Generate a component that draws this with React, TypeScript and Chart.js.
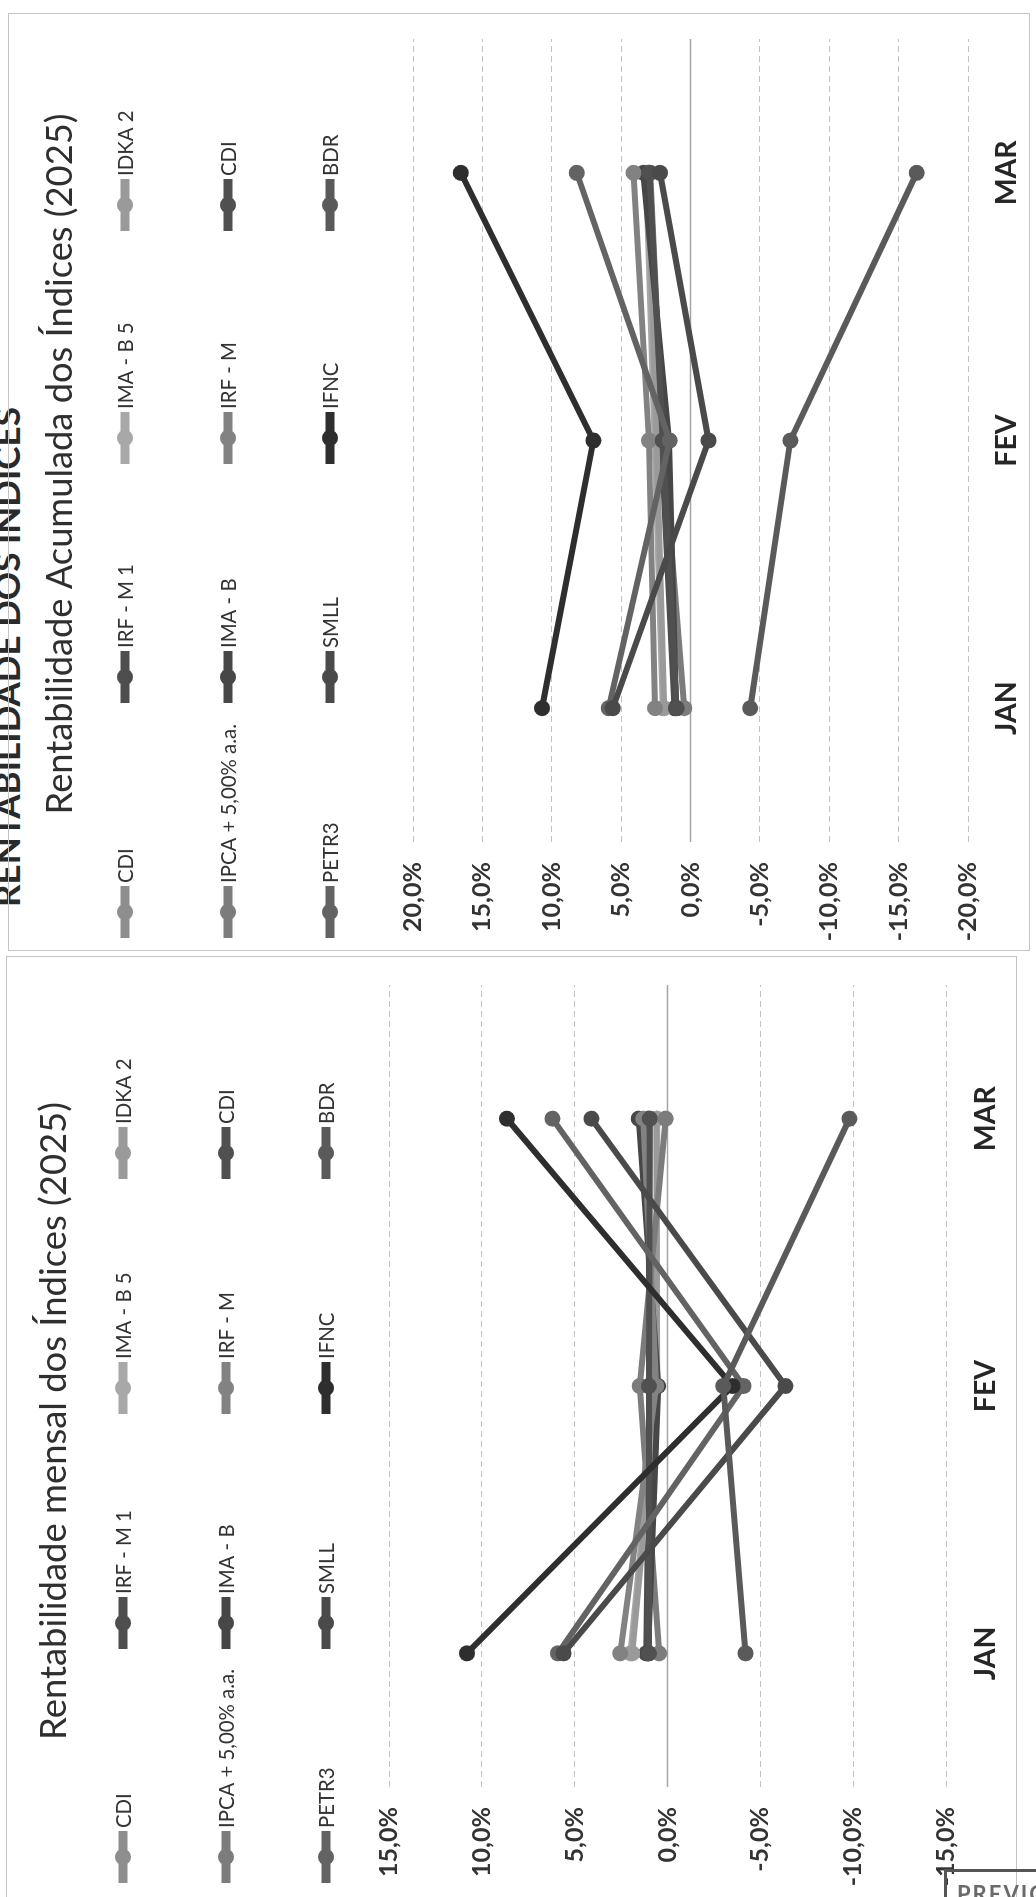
import React, { useEffect, useRef } from "react";
import { Chart, registerables } from "chart.js";

Chart.register(...registerables);

// ---------- data ----------
const months = ["JAN", "FEV", "MAR"];
const seriesNames = [
  "CDI", "IRF - M 1", "IMA - B 5", "IDKA 2",
  "IPCA + 5,00% a.a.", "IMA - B", "IRF - M", "CDI",
  "PETR3", "SMLL", "IFNC", "BDR",
];
const seriesColors = [
  "#8e8e8e", "#4e4e4e", "#a8a8a8", "#9a9a9a",
  "#7c7c7c", "#474747", "#828282", "#505050",
  "#636363", "#4a4a4a", "#2e2e2e", "#5a5a5a",
];

// Rentabilidade mensal (%)
const mensalCdi = [1.0, 1.0, 0.95];
const mensalIrfM1 = [1.15, 0.95, 1.05];
const mensalImaB5 = [2.0, 0.6, 0.55];
const mensalIdka2 = [1.9, 0.55, 0.6];
const mensalIpca5 = [0.45, 1.5, 0.1];
const mensalImaB = [1.05, 0.5, 1.55];
const mensalIrfM = [2.55, 0.6, 1.3];
const mensalCdi2 = [1.0, 1.0, 0.95];
const mensalPetr3 = [5.9, -4.1, 6.2];
const mensalSmll = [5.6, -6.35, 4.1];
const mensalIfnc = [10.8, -3.5, 8.65];
const mensalBdr = [-4.2, -3.0, -9.8];

// Rentabilidade acumulada (%)
const acumCdi = [1.0, 2.0, 2.95];
const acumIrfM1 = [1.15, 2.1, 3.15];
const acumImaB5 = [2.0, 2.6, 3.2];
const acumIdka2 = [1.9, 2.45, 3.05];
const acumIpca5 = [0.45, 2.0, 2.9];
const acumImaB = [1.05, 1.55, 3.4];
const acumIrfM = [2.55, 3.0, 4.1];
const acumCdi2 = [1.0, 2.0, 2.95];
const acumPetr3 = [5.9, 1.5, 8.2];
const acumSmll = [5.6, -1.3, 2.2];
const acumIfnc = [10.7, 7.0, 16.55];
const acumBdr = [-4.3, -7.2, -16.3];

const mensalSeries = [
  mensalCdi, mensalIrfM1, mensalImaB5, mensalIdka2, mensalIpca5, mensalImaB,
  mensalIrfM, mensalCdi2, mensalPetr3, mensalSmll, mensalIfnc, mensalBdr,
];
const acumSeries = [
  acumCdi, acumIrfM1, acumImaB5, acumIdka2, acumIpca5, acumImaB,
  acumIrfM, acumCdi2, acumPetr3, acumSmll, acumIfnc, acumBdr,
];

const mensalAxis = [-15, 15, 5];
const acumAxis = [-20, 20, 5];

const mensalTitle = "Rentabilidade mensal dos Índices (2025)";
const acumTitle = "Rentabilidade Acumulada dos Índices (2025)";
const pageHeading = "RENTABILIDADE DOS ÍNDICES";
const stampText = "PREVIC";

// ---------- styling ----------
const FONT = "Lato, 'Open Sans', 'DejaVu Sans', sans-serif";

function fitSize(text: string, weight: string, target: number) {
  const c = document.createElement("canvas").getContext("2d")!;
  c.font = `${weight} 100px ${FONT}`;
  return (100 * target) / c.measureText(text).width;
}

const fmtPct = (v: number) => {
  const s = (Math.round(v * 10) / 10).toFixed(1).replace(".", ",");
  return (s === "-0,0" ? "0,0" : s) + "%";
};

type Geom = {
  x: number; w: number; h: number;
  area: { left: number; right: number; top: number; bottom: number };
  labelCenter: number;
  titleX: number; titleY: number; titleWidth: number;
  legendCols: number[]; legendRows: number[];
};

const GEOM: Record<string, Geom> = {
  mensal: {
    x: 0, w: 941, h: 1036,
    area: { left: 110, right: 912, top: 389, bottom: 946 },
    labelCenter: 986,
    titleX: 476, titleY: 54, titleWidth: 638,
    legendCols: [40, 274, 509, 744], legendRows: [123, 226, 326],
  },
  acum: {
    x: 946, w: 938, h: 1036,
    area: { left: 109, right: 912, top: 413, bottom: 968 },
    labelCenter: 1007,
    titleX: 487, titleY: 60, titleWidth: 701,
    legendCols: [39, 274, 513, 746], legendRows: [125, 228, 330],
  },
};

const decorPlugin = {
  id: "decor",
  beforeDatasetsDraw(chart: any) {
    const ctx = chart.ctx;
    const { left, right } = chart.chartArea;
    const y = chart.scales.y.getPixelForValue(0);
    ctx.save();
    ctx.strokeStyle = "#a4a4a4";
    ctx.lineWidth = 1.5;
    ctx.beginPath();
    ctx.moveTo(left, y);
    ctx.lineTo(right, y);
    ctx.stroke();
    ctx.restore();
  },
  afterDraw(chart: any, _args: any, opts: any) {
    const ctx = chart.ctx;
    const g: Geom = opts.geom;
    ctx.save();
    // title
    const tSize = fitSize(opts.title, "normal", g.titleWidth);
    ctx.font = `normal ${tSize}px ${FONT}`;
    ctx.fillStyle = "#2f2f2f";
    ctx.textAlign = "center";
    ctx.textBaseline = "middle";
    ctx.fillText(opts.title, g.titleX, g.titleY);
    // legend grid
    const lSize = fitSize("IPCA + 5,00% a.a.", "normal", 159);
    chart.data.datasets.forEach((ds: any, i: number) => {
      const cx = g.legendCols[i % 4];
      const cy = g.legendRows[Math.floor(i / 4)];
      ctx.strokeStyle = ds.borderColor;
      ctx.lineWidth = 9;
      ctx.lineCap = "butt";
      ctx.beginPath();
      ctx.moveTo(cx - 26, cy);
      ctx.lineTo(cx + 26, cy);
      ctx.stroke();
      ctx.fillStyle = ds.borderColor;
      ctx.beginPath();
      ctx.arc(cx, cy, 8, 0, Math.PI * 2);
      ctx.fill();
      ctx.font = `normal ${lSize}px ${FONT}`;
      ctx.fillStyle = "#333333";
      ctx.textAlign = "left";
      ctx.textBaseline = "middle";
      ctx.fillText(ds.label, cx + 29, cy + 1);
    });
    ctx.restore();
  },
};

function buildConfig(kind: "mensal" | "acum") {
  const g = GEOM[kind];
  const series = kind === "mensal" ? mensalSeries : acumSeries;
  const [min, max, step] = kind === "mensal" ? mensalAxis : acumAxis;
  const yFont = fitSize("15,0%", "bold", 70);
  const xFont = fitSize("MAR", "bold", 65);
  const xPad = g.labelCenter - g.area.bottom - xFont * 0.6;
  const n = series.length;
  return {
    type: "line" as const,
    data: {
      labels: months,
      datasets: series.map((vals, i) => ({
        label: seriesNames[i],
        data: vals,
        borderColor: seriesColors[i],
        backgroundColor: seriesColors[i],
        pointBackgroundColor: seriesColors[i],
        pointBorderColor: seriesColors[i],
        borderWidth: 6,
        pointRadius: 8,
        pointBorderWidth: 0,
        tension: 0,
        fill: false,
        order: n - i,
      })),
    },
    options: {
      responsive: false,
      animation: false as const,
      devicePixelRatio: 1,
      events: [],
      layout: {
        padding: { left: 0, right: g.w - g.area.right, top: g.area.top, bottom: 0 },
      },
      plugins: {
        legend: { display: false },
        title: { display: false },
        tooltip: { enabled: false },
        decor: { geom: g, title: kind === "mensal" ? mensalTitle : acumTitle },
      },
      scales: {
        x: {
          type: "category" as const,
          offset: true,
          grid: { display: false, drawTicks: false },
          border: { display: false },
          ticks: {
            padding: xPad,
            color: "#262626",
            font: { family: FONT, weight: "bold" as const, size: xFont },
          },
          afterFit: (s: any) => { s.height = g.h - g.area.bottom; },
        },
        y: {
          min, max,
          ticks: {
            stepSize: step,
            padding: 20,
            color: "#333333",
            font: { family: FONT, weight: "bold" as const, size: yFont },
            callback: (v: any) => fmtPct(Number(v)),
          },
          grid: {
            drawTicks: false,
            lineWidth: 1,
            color: (c: any) => (c.tick && c.tick.value === 0 ? "rgba(0,0,0,0)" : "#c2c2c2"),
          },
          border: { display: false, dash: [6, 4] },
          afterFit: (s: any) => { s.width = g.area.left; },
        },
      },
    },
    plugins: [decorPlugin],
  };
}

function Panel({ kind }: { kind: "mensal" | "acum" }) {
  const ref = useRef<HTMLCanvasElement>(null);
  useEffect(() => {
    const chart = new Chart(ref.current as HTMLCanvasElement, buildConfig(kind) as any);
    return () => chart.destroy();
  }, [kind]);
  const g = GEOM[kind];
  return (
    <canvas
      ref={ref}
      width={g.w}
      height={g.h}
      style={{ position: "absolute", left: g.x, top: 0, width: g.w, height: g.h }}
    />
  );
}

export default function App() {
  const headSize = fitSize(pageHeading, "bold", 500);
  return (
    <div
      style={{
        position: "absolute", left: 0, top: 0, width: 1036, height: 1897,
        overflow: "hidden", background: "#ffffff",
      }}
    >
      <div
        style={{
          position: "absolute", left: 0, top: 1897, width: 1897, height: 1036,
          transform: "rotate(-90deg)", transformOrigin: "0 0",
        }}
      >
        <div
          style={{
            position: "absolute", left: 990, top: 20 - headSize * 0.887, whiteSpace: "nowrap",
            font: `bold ${headSize}px ${FONT}`, color: "#2a2a2a", lineHeight: 1,
          }}
        >
          {pageHeading}
        </div>
        <div style={{ position: "absolute", left: -4, top: 6, width: 945, height: 1011, border: "1.5px solid #c4c4c4", boxSizing: "border-box" }} />
        <div style={{ position: "absolute", left: 946, top: 8, width: 938, height: 1022, border: "1.5px solid #c4c4c4", boxSizing: "border-box" }} />
        <Panel kind="mensal" />
        <Panel kind="acum" />
      </div>
      <div
        style={{
          position: "absolute", left: 944, top: 1869, width: 140, height: 60,
          borderTop: "3px solid #555", borderLeft: "3px solid #555",
          boxSizing: "border-box", paddingLeft: 10, paddingTop: 8,
          font: `bold 22px ${FONT}`, color: "#6a6a6a", letterSpacing: 2,
        }}
      >
        {stampText}
      </div>
    </div>
  );
}
